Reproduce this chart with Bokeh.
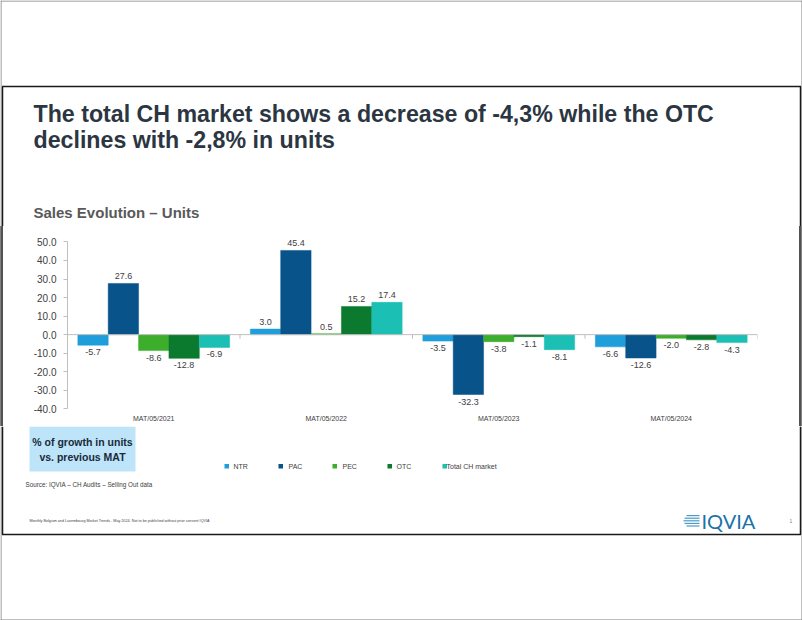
from bokeh.plotting import figure
from bokeh.layouts import column, row
from bokeh.models import (FactorRange, Range1d, FixedTicker, NumeralTickFormatter, Span,
                          ColumnDataSource)
from bokeh.transform import dodge
from bokeh.core.properties import value
from bokeh.embed import file_html
from bokeh.resources import INLINE

# ---- data ----
categories = ["MAT/05/2021", "MAT/05/2022", "MAT/05/2023", "MAT/05/2024"]
ntr = [-5.7, 3.0, -3.5, -6.6]
pac = [27.6, 45.4, -32.3, -12.6]
pec = [-8.6, 0.5, -3.8, -2.0]
otc = [-12.8, 15.2, -1.1, -2.8]
total_ch = [-6.9, 17.4, -8.1, -4.3]
series_names = ["NTR", "PAC", "PEC", "OTC", "Total CH market"]
y_ticks = [-40, -30, -20, -10, 0, 10, 20, 30, 40, 50]

series_values = [ntr, pac, pec, otc, total_ch]
colors = ["#1E9FDB", "#08538A", "#3DAE2B", "#0B7A2E", "#1BBFB3"]

FONT = "Liberation Sans"
W, H = 802, 620
TOP_H = 226               # header strip height
CH_Y0, CH_Y1 = 226, 426   # chart strip
FL, FR, FT, FB = 67, 757, 234, 412   # chart frame, page pixels

PAGE_LINE = "#808080"
SLIDE_LINE = "#1A1A1A"


def deco(width, height, x0, y0):
    """A plain figure whose data coordinates equal page pixels (y downward)."""
    f = figure(width=width, height=height, x_range=Range1d(x0, x0 + width),
               y_range=Range1d(y0 + height, y0), output_backend="svg",
               toolbar_location=None, x_axis_location=None, y_axis_location=None,
               min_border=0, min_border_left=0, min_border_right=0,
               min_border_top=0, min_border_bottom=0)
    f.outline_line_color = None
    f.grid.visible = False
    f.background_fill_color = "white"
    f.border_fill_color = "white"
    return f


def txt(f, X, Y, text, size, color="#404040", bold=False, align="left", font=FONT):
    f.text(x=[X], y=[Y], text=[text], text_font=value(font), text_font_size=size,
           text_color=color, text_font_style="bold" if bold else "normal",
           text_align=align, text_baseline="middle")


def hline(f, x0, x1, y, color, w):
    f.segment(x0=[x0], x1=[x1], y0=[y], y1=[y], line_color=color, line_width=w)


def vline(f, x, y0, y1, color, w):
    f.segment(x0=[x], x1=[x], y0=[y0], y1=[y1], line_color=color, line_width=w)


def page_sides(f, y0, y1, slide_y0, slide_y1):
    vline(f, 0.5, y0, y1, PAGE_LINE, 1)
    vline(f, 801.5, y0, y1, PAGE_LINE, 1)
    if slide_y1 > slide_y0:
        vline(f, 2, slide_y0, slide_y1, SLIDE_LINE, 1.5)
        vline(f, 800, slide_y0, slide_y1, SLIDE_LINE, 1.5)


# ---------------- header strip ----------------
top = deco(W, TOP_H, 0, 0)
hline(top, 0, W, 0.5, PAGE_LINE, 1)
page_sides(top, 0, TOP_H, 86, TOP_H)
hline(top, 1.5, 800.5, 86, SLIDE_LINE, 1.5)
txt(top, 33, 113.5, "The total CH market shows a decrease of -4,3% while the OTC", "23.2px", "#2B3642", True)
txt(top, 33, 139.5, "declines with -2,8% in units", "23.2px", "#2B3642", True)
txt(top, 33, 211.5, "Sales Evolution \u2013 Units", "15px", "#595959", True)

# ---------------- chart strip ----------------
CH_H = CH_Y1 - CH_Y0
p = figure(width=W, height=CH_H, x_range=FactorRange(*categories),
           y_range=Range1d(-42, 54), output_backend="svg", toolbar_location=None,
           min_border_left=FL, min_border_right=W - FR,
           min_border_top=FT - CH_Y0, min_border_bottom=CH_Y1 - FB)
p.outline_line_color = None
p.background_fill_color = "white"
p.border_fill_alpha = 0.0
p.xgrid.visible = False
p.ygrid.visible = False
# side lines of the page and of the slide, drawn by the element itself
p.styles = {
    "background-color": "white",
    "box-shadow": ("inset 1px 0 0 #808080, inset 1.25px 0 0 #ffffff, inset 2.75px 0 0 #1A1A1A, "
                   "inset -1px 0 0 #808080, inset -1.25px 0 0 #ffffff, inset -2.75px 0 0 #1A1A1A"),
}

ya = p.yaxis[0]
ya.ticker = FixedTicker(ticks=y_ticks)
ya.formatter = NumeralTickFormatter(format="0.0")
ya.bounds = (-40, 50)
ya.axis_line_color = "#BFBFBF"
ya.major_tick_line_color = "#BFBFBF"
ya.major_tick_out = 4
ya.major_tick_in = 0
ya.minor_tick_line_color = None
ya.major_label_standoff = 7
ya.major_label_text_font = FONT
ya.major_label_text_font_size = "10px"
ya.major_label_text_color = "#404040"

xa = p.xaxis[0]
xa.axis_line_color = None
xa.major_tick_line_color = None
xa.minor_tick_line_color = None
xa.major_tick_out = 0
xa.major_tick_in = 0
xa.major_label_standoff = 2
xa.major_label_text_font = FONT
xa.major_label_text_font_size = "7px"
xa.major_label_text_color = "#404040"

p.add_layout(Span(location=0, dimension="width", line_color="#BFBFBF", line_width=1))

bw = 0.176
offsets = [-2 * bw, -bw, 0, bw, 2 * bw]
for name, vals, col, off in zip(series_names, series_values, colors, offsets):
    src = ColumnDataSource(dict(cat=categories, v=vals))
    p.vbar(x=dodge("cat", off, range=p.x_range), top="v", bottom=0, width=bw,
           source=src, fill_color=col, line_color=col, line_width=0.5)
    pos = ColumnDataSource(dict(cat=[c for c, v in zip(categories, vals) if v >= 0],
                                v=[v for v in vals if v >= 0],
                                t=["%.1f" % v for v in vals if v >= 0]))
    neg = ColumnDataSource(dict(cat=[c for c, v in zip(categories, vals) if v < 0],
                                v=[v for v in vals if v < 0],
                                t=["%.1f" % v for v in vals if v < 0]))
    p.text(x=dodge("cat", off, range=p.x_range), y="v", text="t", source=pos,
           text_align="center", text_baseline="bottom", y_offset=-4,
           text_font=value(FONT), text_font_size="9px", text_color="#404040")
    p.text(x=dodge("cat", off, range=p.x_range), y="v", text="t", source=neg,
           text_align="center", text_baseline="top", y_offset=4,
           text_font=value(FONT), text_font_size="9px", text_color="#404040")

bnd = ColumnDataSource(dict(cat=categories))
p.segment(x0=dodge("cat", 0.5, range=p.x_range), x1=dodge("cat", 0.5, range=p.x_range),
          y0=0, y1=-2.2, source=bnd, line_color="#BFBFBF", line_width=1)

# ---------------- footer strip ----------------
BOT_H = H - CH_Y1
bot = deco(W, BOT_H, 0, CH_Y1)
page_sides(bot, CH_Y1, H, CH_Y1, 534)
hline(bot, 0, W, 619.5, PAGE_LINE, 1)
hline(bot, 1.5, 800.5, 534, SLIDE_LINE, 1.5)

# note box
bot.quad(left=[29], right=[135], top=[426], bottom=[471], fill_color="#BDE4F9", line_color=None)
txt(bot, 82, 441.5, "% of growth in units", "10.5px", "#1A2A3A", True, "center")
txt(bot, 82, 456, "vs. previous MAT", "10.5px", "#1A2A3A", True, "center")

# legend
leg_sq = [224, 278, 332, 387, 442]
leg_tx = [233, 288, 342, 396, 446]
for sx, tx, name, col in zip(leg_sq, leg_tx, series_names, colors):
    bot.quad(left=[sx], right=[sx + 4.5], top=[463.5], bottom=[468], fill_color=col, line_color=None)
    txt(bot, tx, 465.5, name, "7px", "#404040")

txt(bot, 25, 484, "Source: IQVIA \u2013 CH Audits \u2013 Selling Out data", "6.3px", "#404040")
txt(bot, 29, 520, "Monthly Belgium and Luxembourg Market Trends - May 2024- Not to be published without prior consent IQVIA",
    "3.7px", "#404040")
txt(bot, 789, 520, "1", "5px", "#808080")

# IQVIA logo
for i, x0 in enumerate([686, 684, 683, 684, 686]):
    bot.quad(left=[x0], right=[699], top=[514.5 + i * 2.6], bottom=[515.7 + i * 2.6],
             fill_color="#4A9CC9", line_color=None)
txt(bot, 701, 520.5, "IQVIA", "20px", "#1B72A8", False, "left", "Lato")

layout = column(top, row(p), bot)
open("out.html", "w").write(file_html(layout, INLINE))
